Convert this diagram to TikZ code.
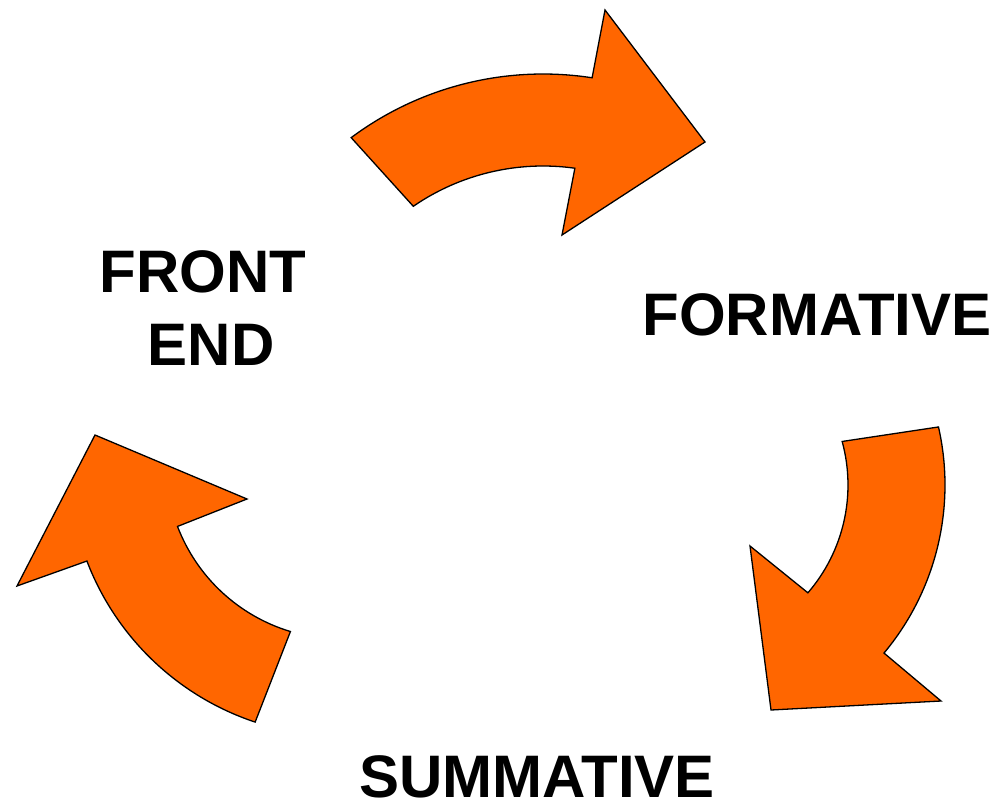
\documentclass[tikz,border=0pt]{standalone}
\usepackage{fontspec}
\setmainfont{Liberation Sans}
\usetikzlibrary{calc}
\definecolor{arroworange}{HTML}{FF6600}
\tikzset{
  blockarrow/.style={fill=arroworange, draw=black, line width=1.3pt, line join=miter},
  label/.style={inner sep=0pt, font=\bfseries\fontsize{60}{64}\selectfont, text=black}
}
\begin{document}
\begin{tikzpicture}[x=1pt,y=-1pt]
\useasboundingbox (0,0) rectangle (1003,805);
\coordinate (ct) at (543,395);
\coordinate (cr) at (683,485);
\coordinate (cl) at (341,464);
% top arrow
\draw[blockarrow] ($(ct)+(-126.7:321)$) -- ($(ct)+(-124.5:229)$)
  arc[start angle=-124.5, end angle=-82, radius=229]
  -- (562,235) -- (705,142) -- (605,10) -- ($(ct)+(-81.2:321)$)
  arc[start angle=-81.2, end angle=-126.7, radius=321] -- cycle;
% right arrow
\draw[blockarrow] ($(cr)+(-15.3:165)$) -- ($(cr)+(-12.8:262)$)
  arc[start angle=-12.8, end angle=39.9, radius=262]
  -- (941,701) -- (771,710) -- (750,546) -- ($(cr)+(40.8:165)$)
  arc[start angle=40.8, end angle=-15.3, radius=165] -- cycle;
% left arrow
\draw[blockarrow] (95,435) -- (247,499) -- ($(cl)+(159.1:175)$)
  arc[start angle=159.1, end angle=106.8, radius=175]
  -- ($(cl)+(108.4:272)$)
  arc[start angle=108.4, end angle=159.1, radius=272]
  -- (17,586) -- cycle;
\node[label] (front) at (203,272) {FRONT};
\node[label] (end) at (211,345) {END};
\node[label] (formative) at (817,315) {FORMATIVE};
\node[label] (summative) at (537,777) {SUMMATIVE};
\end{tikzpicture}
\end{document}
